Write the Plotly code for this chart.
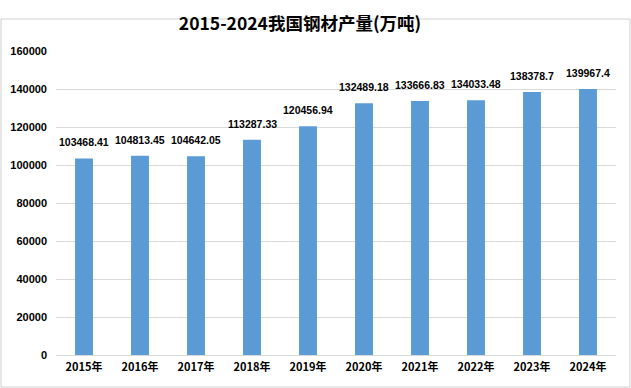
import plotly.graph_objects as go

years = ["2015年", "2016年", "2017年", "2018年", "2019年", "2020年", "2021年", "2022年", "2023年", "2024年"]
values = [103468.41, 104813.45, 104642.05, 113287.33, 120456.94, 132489.18, 133666.83, 134033.48, 138378.7, 139967.4]
labels = ["103468.41", "104813.45", "104642.05", "113287.33", "120456.94", "132489.18", "133666.83", "134033.48", "138378.7", "139967.4"]
y_ticks = [0, 20000, 40000, 60000, 80000, 100000, 120000, 140000, 160000]

W, H = 631, 388
L, R, T, B = 56, 15, 51, 33
pw, ph = W - L - R, H - T - B

fig = go.Figure(go.Bar(
    x=years, y=values,
    marker=dict(color="#5B9BD5", line=dict(width=0)),
    width=0.32, hoverinfo="x+y",
))

# value labels above the bars
for yr, v, lab in zip(years, values, labels):
    fig.add_annotation(x=yr, y=v, text=f"<b>{lab}</b>", showarrow=False,
                       yanchor="bottom", yshift=8, xanchor="center",
                       font=dict(family="Liberation Sans, Arial", size=10.5, color="#000000"))

fig.update_layout(
    width=W, height=H,
    margin=dict(l=L, r=R, t=T, b=B),
    paper_bgcolor="white", plot_bgcolor="white",
    title=dict(text="<b>2015-2024我国钢材产量(万吨)</b>", x=300 / W, xanchor="center", xref="container",
               y=1 - 24 / H, yanchor="middle", yref="container",
               font=dict(family="Noto Sans CJK SC, Liberation Sans", size=17.5, color="#000000")),
    showlegend=False,
    xaxis=dict(showgrid=False, showline=True, linecolor="#D9D9D9", linewidth=1, automargin=False,
               tickvals=years, ticktext=[f"<b>{y}</b>" for y in years],
               tickfont=dict(family="Noto Sans CJK SC, Liberation Sans", size=11, color="#000000"),
               ticks="", ticklabelstandoff=2),
    yaxis=dict(range=[0, 160000], tickvals=y_ticks, ticktext=[f"<b>{v}</b>" for v in y_ticks],
               showgrid=True, gridcolor="#D9D9D9", gridwidth=1, zeroline=False, automargin=False,
               tickfont=dict(family="Liberation Sans, Arial", size=11, color="#000000"),
               ticks="", ticklabelstandoff=8),
)

# outer chart border
fig.add_shape(type="rect", xref="paper", yref="paper",
              x0=(1 - L) / pw, x1=(W - L - 1) / pw,
              y0=-(B - 1) / ph, y1=(H - T - 1) / ph,
              line=dict(color="#D0D0D0", width=1), fillcolor="rgba(0,0,0,0)", layer="below")

fig.write_html("out.html", config={"displayModeBar": False},
               post_script="document.body.style.margin='0';")
